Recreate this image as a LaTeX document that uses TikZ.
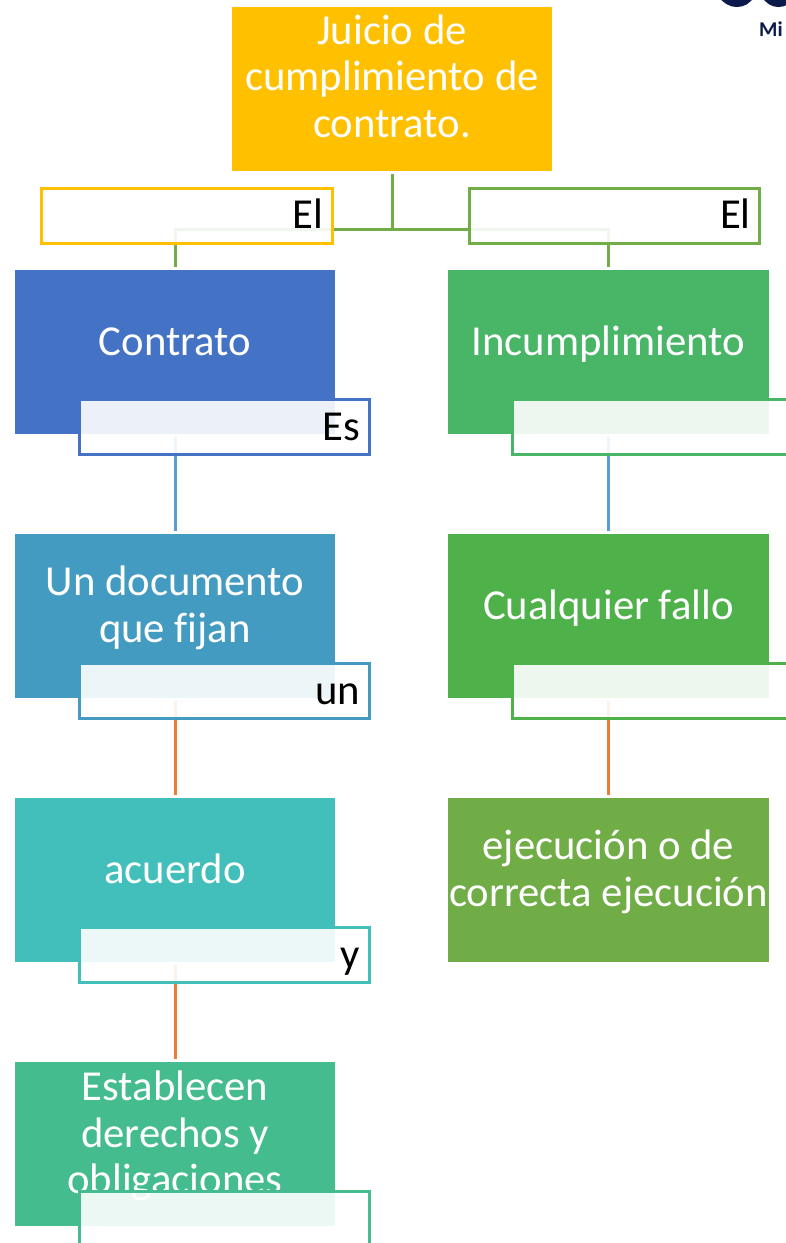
\documentclass[tikz,border=0pt]{standalone}
\usepackage{fontspec}
\setmainfont{Carlito}[RawFeature={-liga;-clig;-dlig}]
\definecolor{cRoot}{HTML}{FFC000}
\definecolor{cGreen}{HTML}{70AD47}
\definecolor{cBlue}{HTML}{4472C4}
\definecolor{cInc}{HTML}{48B666}
\definecolor{cDoc}{HTML}{449BC1}
\definecolor{cFallo}{HTML}{4EB14A}
\definecolor{cAcu}{HTML}{43BFBB}
\definecolor{cEst}{HTML}{45BC8D}
\definecolor{cLinkB}{HTML}{5B9BD5}
\definecolor{cLinkO}{HTML}{ED7D31}
\definecolor{cNavy}{HTML}{0B1A4A}
\tikzset{
  x=1pt,y=-1pt,
  bigbox/.style={anchor=north west,minimum width=320.5pt,minimum height=164pt,inner sep=0pt,outer sep=0pt,fill=#1},
  boxtext/.style={text=white,align=center,inner sep=0pt,font=\fontsize{42.7}{46.5}\selectfont},
  tag/.style={anchor=north west,draw=#1,line width=3pt,fill=white,fill opacity=0.9,text opacity=1,
    minimum width=290pt,minimum height=55pt,inner xsep=9pt,inner ysep=0pt,outer sep=0pt,
    text width=272pt,align=right,text height=26pt,text depth=0pt,font=\fontsize{42.7}{46.5}\selectfont},
  link/.style={draw=#1,line width=3pt}
}
\begin{document}
\begin{tikzpicture}
\useasboundingbox (0,0) rectangle (786,1243);
\clip (0,0) rectangle (786,1243);
% logo fragment
\draw[cNavy,line width=8pt] (722,-6) .. controls (729,6) and (745,6) .. (751,-6);
\draw[cNavy,line width=8pt] (765,-6) .. controls (771,6) and (786,6) .. (792,-6);
\node[anchor=base west,inner sep=0pt,text=cNavy,font=\fontsize{21}{21}\selectfont\bfseries] (logotext) at (759,36) {Mi};
% main boxes
\node[bigbox=cRoot,minimum width=320pt] (root) at (232,7) {};
\node[bigbox=cBlue,minimum width=320pt] (contrato) at (15,270) {};
\node[bigbox=cInc] (incump) at (448.2,270) {};
\node[bigbox=cDoc,minimum width=320pt] (documento) at (15,534) {};
\node[bigbox=cFallo] (fallo) at (448.2,534) {};
\node[bigbox=cAcu,minimum width=320pt] (acuerdo) at (15,798) {};
\node[bigbox=cGreen] (ejec) at (448.2,798) {};
\node[bigbox=cEst,minimum width=320pt] (establecen) at (15,1062) {};
% connectors
\coordinate (junction) at ([yshift=-58.5pt]root.south);
\draw[link=cGreen] ([yshift=-3pt]root.south) -- (junction);
\draw[link=cGreen] (junction) -| ([yshift=3pt]contrato.north);
\draw[link=cGreen] (junction) -| ([yshift=3pt]incump.north);
\draw[link=cLinkB] ([yshift=-3pt]contrato.south) -- ([yshift=3pt]documento.north);
\draw[link=cLinkB] ([yshift=-3pt]incump.south) -- ([yshift=3pt]fallo.north);
\draw[link=cLinkO] ([yshift=-3pt]documento.south) -- ([yshift=3pt]acuerdo.north);
\draw[link=cLinkO] ([yshift=-3pt]fallo.south) -- ([yshift=3pt]ejec.north);
\draw[link=cLinkO] ([yshift=-3pt]acuerdo.south) -- ([yshift=3pt]establecen.north);
% box texts
\node[boxtext] (t1) at ([yshift=13pt]root.center) {Juicio de\\cumplimiento de\\contrato.};
\node[boxtext] (t2) at ([yshift=10pt]contrato.center) {Contrato};
\node[boxtext] (t3) at ([yshift=8pt]incump.center) {Incumplimiento};
\node[boxtext] (t4) at ([yshift=8pt]documento.center) {Un documento\\que fijan};
\node[boxtext] (t5) at ([yshift=8pt]fallo.center) {Cualquier fallo};
\node[boxtext] (t6) at ([yshift=11pt]acuerdo.center) {acuerdo};
\node[boxtext] (t7) at ([yshift=8pt]ejec.center) {ejecución o de\\correcta ejecución};
\node[boxtext] (t8) at ([yshift=8pt]establecen.center) {Establecen\\derechos y\\obligaciones};
% translucent tags
\node[tag=cRoot,minimum width=290.7pt,text width=272.7pt] (el1) at (41.7,188.4) {El};
\node[tag=cGreen,minimum width=290.7pt,text width=272.7pt] (el2) at (469,188.4) {El};
\node[tag=cBlue] (es) at (79,399.5) {Es};
\node[tag=cInc] (tagb) at (512,399.5) {};
\node[tag=cDoc] (un) at (79,663.5) {un};
\node[tag=cFallo] (tagd) at (512,663.5) {};
\node[tag=cAcu] (yy) at (79,927.5) {y};
\node[tag=cEst] (tage) at (79,1191.5) {};
\end{tikzpicture}
\end{document}
